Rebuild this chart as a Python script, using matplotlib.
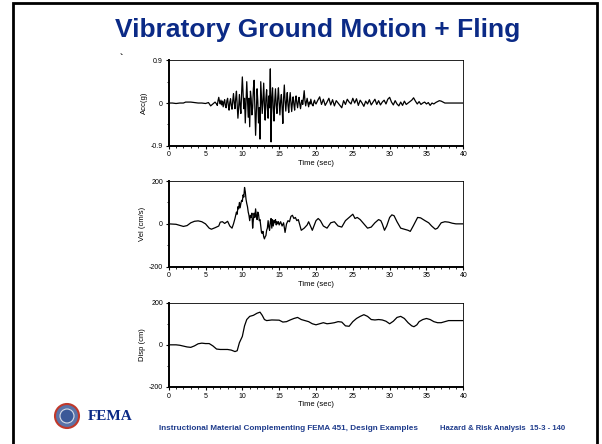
import matplotlib
matplotlib.use("Agg")
import matplotlib.pyplot as plt
from matplotlib.patches import Circle, Rectangle
from matplotlib.ticker import MultipleLocator

plt.rcParams['font.family'] = ['Liberation Sans', 'DejaVu Sans']

# acceleration record (g)
acc_t = [0, 0.5, 1, 1.5, 2, 2.3, 3, 3.5, 4, 4.5, 5, 5.4, 5.7, 6, 6.3,
         6.5, 6.6, 6.7, 6.8, 6.9, 7.0, 7.1, 7.2, 7.3, 7.4, 7.5, 7.6, 7.7, 7.8, 7.9,
         8.0, 8.1, 8.2, 8.3, 8.4, 8.5, 8.6, 8.7, 8.8, 8.9, 9.0, 9.1, 9.2, 9.3, 9.4,
         9.5, 9.6, 9.7, 9.8, 9.9, 10.0, 10.1, 10.2, 10.3, 10.4, 10.5, 10.6, 10.7, 10.8, 10.9,
         11.0, 11.1, 11.2, 11.3, 11.4, 11.5, 11.6, 11.7, 11.8, 11.9, 12.0, 12.1, 12.2, 12.3, 12.4,
         12.5, 12.6, 12.7, 12.8, 12.9, 13.0, 13.1, 13.2, 13.3, 13.4, 13.5, 13.6, 13.7, 13.8, 13.9,
         14.0, 14.1, 14.2, 14.3, 14.4, 14.5, 14.6, 14.7, 14.8, 14.9, 15.0, 15.1, 15.2, 15.3, 15.4,
         15.5, 15.6, 15.7, 15.8, 15.9, 16.0, 16.1, 16.2, 16.3, 16.4, 16.5, 16.6, 16.7, 16.8, 16.9,
         17.0, 17.1, 17.2, 17.3, 17.4, 17.5, 17.6, 17.7, 17.8, 17.9, 18.0, 18.1, 18.2, 18.3, 18.4,
         18.5, 18.6, 18.7, 18.8, 18.9, 19.0, 19.1, 19.2, 19.3, 19.4, 19.5, 19.6, 19.7, 19.8, 19.9,
         20.0, 20.25, 20.5, 20.75, 21.0, 21.25, 21.5, 21.75, 22.0, 22.25, 22.5, 22.75, 23.0, 23.25, 23.5,
         23.75, 24.0, 24.25, 24.5, 24.75, 25.0, 25.25, 25.5, 25.75, 26.0, 26.25, 26.5, 26.75, 27.0, 27.25,
         27.5, 27.75, 28.0, 28.25, 28.5, 28.75, 29.0, 29.25, 29.5, 29.75, 30.0, 30.25, 30.5, 30.75, 31.0,
         31.25, 31.5, 31.75, 32.0, 32.25, 32.5, 32.75, 33.0, 33.25, 33.5, 33.75, 34.0, 34.25, 34.5, 34.75,
         35.0, 35.25, 35.5, 35.75, 36.0, 36.25, 36.5, 36.75, 37.0, 37.25, 37.5, 38, 39, 40]
acc_g = [0, 0, -0.01, 0, 0, 0.02, 0.02, 0.01, 0, 0, -0.01, 0.01, -0.06, -0.02, 0.02,
         -0.02, -0.05, 0.05, 0.12, 0.03, -0.02, 0.06, -0.04, 0.04, -0.08, 0.02, 0.07, -0.06, -0.1, 0.05,
         0.1, -0.05, -0.15, 0.02, 0.09, -0.06, -0.13, 0.05, 0.2, 0.0, -0.12, 0.1, 0.25, -0.05, -0.32,
         -0.1, 0.18, -0.05, -0.22, 0.2, 0.55, 0.2, -0.12, 0.1, -0.42, 0.05, 0.45, 0.1, -0.3, 0.1,
         -0.5, 0.25, 0.1, -0.25, -0.1, 0.3, 0.48, -0.1, -0.68, -0.2, 0.3, 0.05, -0.42, -0.1, -0.76,
         0.45, 0.1, -0.22, 0.05, 0.42, -0.05, -0.36, 0.1, 0.28, -0.1, -0.32, 0.15, -0.1, 0.72, -0.82,
         0.1, 0.32, -0.1, -0.38, 0.05, 0.3, -0.05, -0.22, 0.1, 0.32, 0.0, -0.25, 0.05, 0.18, -0.1,
         -0.43, 0.1, 0.38, 0.05, -0.17, 0.05, 0.22, -0.05, -0.2, 0.05, 0.22, 0.0, -0.18, 0.02, 0.13,
         -0.03, -0.15, 0.05, 0.15, 0.0, -0.1, 0.03, 0.12, -0.02, -0.12, 0.0, 0.06, -0.03, 0.12, 0.26,
         0.05, -0.06, 0.03, 0.1, 0.0, -0.08, 0.02, -0.02, 0.08, 0.0, -0.04, -0.06, 0.02, 0.06, 0.0,
         -0.02, 0.06, 0.13, -0.03, 0.08, -0.05, 0.02, 0.1, -0.04, 0.07, -0.06, 0.05, 0.0, -0.05, -0.1,
         0.05, -0.03, 0.08, 0.02, -0.02, 0.1, 0.0, 0.09, -0.05, 0.06, 0.0, -0.07, 0.04, -0.02, 0.07,
         -0.04, 0.02, 0.08, -0.03, 0.05, -0.04, 0.02, 0.06, -0.02, 0.08, 0.12, 0.02, -0.04, 0.05, -0.02,
         -0.06, 0.02, -0.05, 0.04, -0.03, 0.0, 0.03, 0.06, 0.11, 0.04, -0.02, 0.03, -0.03, 0.0, 0.02,
         -0.02, 0.01, -0.05, 0.0, -0.02, 0.01, 0.03, 0.05, 0.04, 0.02, 0.0, 0, 0, 0]

# velocity (cm/s)
vel_t = [0, 1, 2, 2.5, 3, 3.5, 4, 4.5, 5, 5.5, 5.8, 6.3, 6.8, 7.0, 7.3, 7.6, 8.0, 8.3,
         8.6, 8.8, 9.0, 9.1, 9.2, 9.3, 9.4, 9.5, 9.6, 9.7, 9.8, 9.9, 10.0, 10.1, 10.2, 10.3,
         10.4, 10.5, 10.6, 10.7, 10.8, 10.9, 11.0, 11.1, 11.2, 11.3, 11.4, 11.5, 11.6, 11.7,
         11.8, 11.9, 12.0, 12.1, 12.2, 12.3, 12.4, 12.5, 12.6, 12.7, 12.8, 12.9, 13.0, 13.1,
         13.2, 13.3, 13.4, 13.5, 13.6, 13.7, 13.8, 13.9, 14.0, 14.1, 14.2, 14.3, 14.4, 14.5,
         14.6, 14.7, 14.8, 14.9, 15.0, 15.2, 15.4, 15.6, 15.8, 16.0, 16.2, 16.4, 16.6, 16.8,
         17.0, 17.2, 17.4, 17.6, 18.0, 18.4, 18.8, 19.0, 19.5, 20.0, 20.3, 20.6, 21.0,
         21.5, 22.0, 22.5, 23.0, 23.5, 24.0, 24.5, 25.0, 25.3, 25.6, 26.0, 26.5, 27.0, 27.5, 28.0,
         28.5, 28.8, 29.0, 29.3, 29.6, 30.0, 30.3, 30.6, 31.0, 31.5, 32.0, 32.5, 32.8, 33.2, 33.8,
         34.2, 34.8, 35.3, 35.7, 36.2, 36.5, 37.0, 37.5, 38.0, 38.5, 39, 40]
vel_cms = [0, -2, -12, -8, 5, 12, 14, 10, 0, -20, -25, -18, -10, 8, 10, 2, 12, -10,
           -20, 0, 25, 40, 55, 45, 80, 70, 100, 75, 95, 110, 105, 135, 125, 170,
           150, 115, 95, 80, 55, 40, 15, 40, 30, 50, -20, 20, 50, 30,
           70, 40, 20, 55, 45, 15, 20, -10, -40, -45, -35, -60, -70, -60,
           -55, -30, -20, 15, -15, -30, 10, 25, -20, 20, -10, 15, 5, 20,
           -5, 10, 0, 10, -5, 10, -10, 5, -40, 0, 15, 10, 35, 40,
           25, 30, 15, 20, -30, -20, -5, 10, -30, 15, 25, 15, -10,
           -20, 5, 10, -10, -15, 15, 30, 45, 25, 30, 20, 0, -20, -15, 5,
           20, 15, 0, -30, -10, 30, 42, 38, 10, -20, -25, -30, -35, -10, 30,
           28, 15, 5, -10, -25, -20, 5, 10, 8, 3, 0, 0]

# displacement (cm)
disp_t = [0, 1, 1.5, 2.5, 3, 3.5, 4, 4.5, 5, 5.5, 6, 6.5, 7, 8, 8.5, 9, 9.3, 9.6, 10, 10.3,
          10.6, 11, 11.5, 12, 12.4, 12.7, 13, 13.3, 14, 15, 15.5, 16, 16.5, 17, 17.5, 18, 18.5,
          19, 19.5, 20, 20.5, 21, 21.5, 22, 22.5, 23, 23.5, 24, 24.5, 25, 25.5, 26, 26.5, 27,
          27.5, 28, 28.5, 29, 29.5, 30, 30.5, 31, 31.5, 32, 32.5, 33, 33.3, 33.7, 34, 34.5, 35,
          35.5, 36, 36.5, 37, 37.5, 38, 39, 40]
disp_cm = [0, 0, -2, -10, -12, -5, 5, 8, 6, 6, -5, -20, -22, -22, -25, -32, -28, 10, 40, 90,
           120, 135, 140, 150, 155, 140, 120, 115, 118, 117, 108, 110, 118, 125, 130, 120, 115,
           110, 100, 95, 100, 105, 100, 102, 105, 110, 108, 90, 88, 110, 125, 135, 143, 135,
           120, 118, 120, 118, 112, 100, 112, 130, 135, 125, 105, 90, 86, 95, 110, 120, 125,
           120, 110, 105, 105, 110, 115, 115, 115]

panels = [
    (acc_t, acc_g, 0.9, "Acc(g)", [0.2802, 0.6718, 0.4894, 0.1923]),
    (vel_t, vel_cms, 200, "Vel (cm/s)", [0.2802, 0.3993, 0.4894, 0.1930]),
    (disp_t, disp_cm, 200, "Disp (cm)", [0.2802, 0.1284, 0.4894, 0.1899]),
]

navy = "#0b2a86"
fig = plt.figure(figsize=(6.02, 4.44), dpi=100)

# slide frame
fig.patches.append(Rectangle((13/602, -0.05), (597 - 13) / 602, 1.05 - 3.5/444,
                             transform=fig.transFigure, fill=False, lw=2.0, ec="black"))

fig.text(318/602, 1 - 30/444, "Vibratory Ground Motion + Fling", ha="center", va="center",
         fontsize=19, fontweight="bold", color=navy)

for t, v, lim, lab, pos in panels:
    ax = fig.add_axes(pos)
    ax.plot(t, v, color="black", lw=0.9)
    ax.set_xlim(0, 40)
    ax.set_ylim(-lim, lim)
    ax.set_xticks(range(0, 41, 5))
    ax.xaxis.set_minor_locator(MultipleLocator(1))
    ax.set_yticks([-lim, 0, lim])
    ax.set_yticklabels([("%g" % -lim), "0", ("%g" % lim)])
    ax.yaxis.set_minor_locator(MultipleLocator(lim / 2))
    ax.tick_params(which="major", labelsize=5, length=2.5, width=0.8, pad=1.5)
    ax.tick_params(which="minor", length=1.5, width=0.6)
    ax.set_xlabel("Time (sec)", fontsize=5.5, labelpad=1)
    ax.set_ylabel(lab, fontsize=5.5, labelpad=2)
    for s in ["left", "bottom"]:
        ax.spines[s].set_linewidth(1.4)
    for s in ["top", "right"]:
        ax.spines[s].set_linewidth(0.6)

fig.text(121/602, 1 - 58/444, "`", fontsize=7, fontweight="bold", ha="center", va="center")

# FEMA logo
fig.patches.append(Circle((67, 444 - 416), 12, transform=None, fc="#5a73a8", ec="#c0392b", lw=1.5))
fig.patches.append(Circle((67, 444 - 416), 7, transform=None, fc="#3b5998", ec="#d8dde8", lw=0.8))
fig.text(88/602, 1 - 416/444, "FEMA", fontsize=11, fontweight="bold", family="Liberation Serif",
         color=navy, va="center", ha="left")

fig.text(159/602, 1 - 428/444, "Instructional Material Complementing FEMA 451, Design Examples",
         fontsize=5.9, fontweight="bold", color="#1f3c8c", va="center", ha="left")
fig.text(440/602, 1 - 428/444, "Hazard & Risk Analysis  15-3 - 140",
         fontsize=5.6, fontweight="bold", color="#1f3c8c", va="center", ha="left")

fig.savefig("out.png", dpi=100)
